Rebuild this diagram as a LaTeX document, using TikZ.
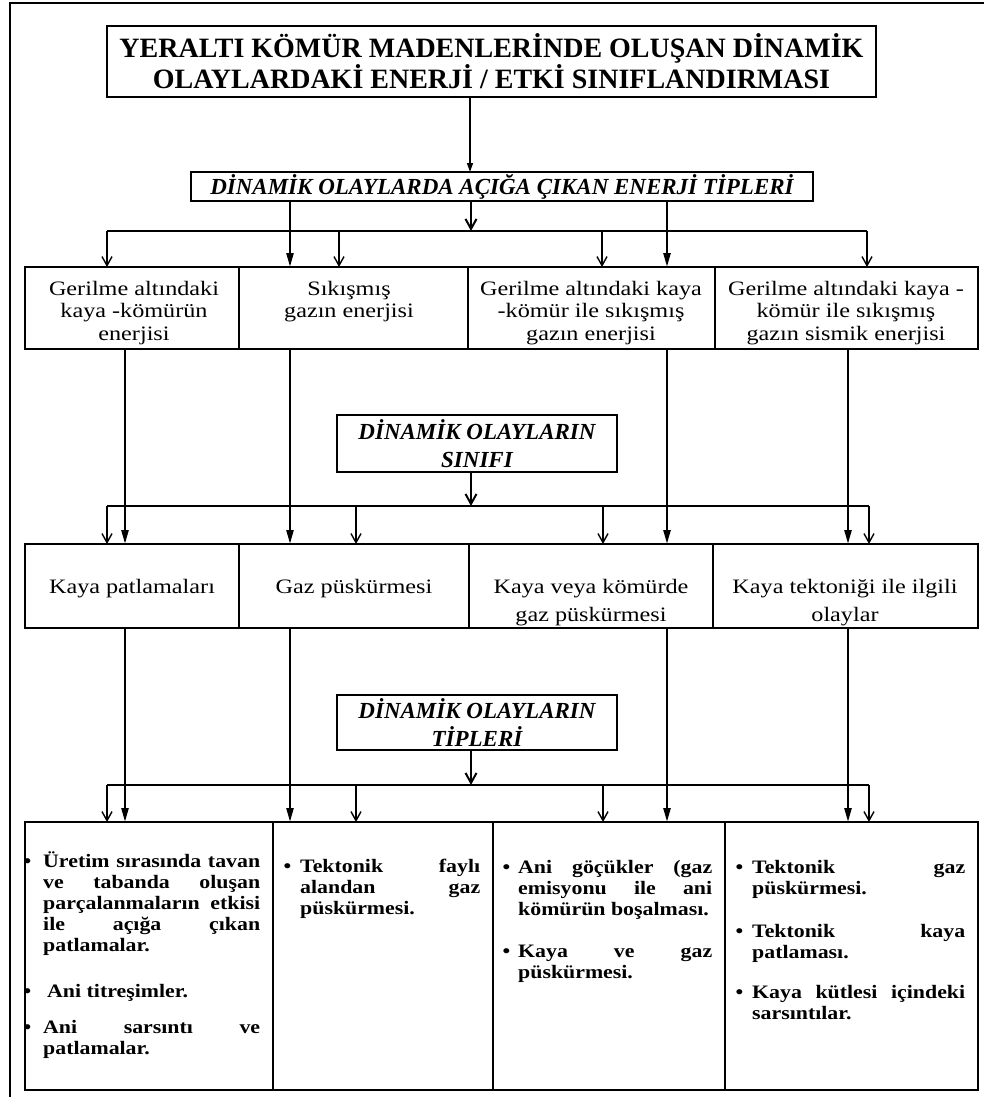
\documentclass[tikz,border=0pt]{standalone}
\usepackage{fontspec}
\setmainfont{Liberation Serif}
\newfontfamily\rowfont{Liberation Serif}[FakeStretch=1.15]
\newfontfamily\widefont{Liberation Serif}[FakeStretch=1.18]
\usetikzlibrary{arrows.meta}
\newcommand{\jl}[1]{\makebox[\linewidth][s]{#1}}
\newcommand{\bul}[1]{\leavevmode\llap{\textbullet\kern#1pt}}
\newcommand{\rtx}{\rowfont\fontsize{19}{21}\selectfont\bfseries\lineskiplimit=-50pt\relax}
\newcommand{\btx}{\widefont\fontsize{20.5}{22.5}\selectfont\lineskiplimit=-50pt\relax}
\newcommand{\ctx}{\widefont\fontsize{20.5}{28}\selectfont\lineskiplimit=-50pt\relax}
\begin{document}
\begin{tikzpicture}[x=1pt,y=-1pt,
  frame/.style={line width=2pt},
  box/.style={draw, line width=1.8pt, inner sep=0pt, outer sep=0pt, anchor=north west},
  tbox/.style={draw, line width=2.6pt, inner sep=0pt, outer sep=0pt, anchor=north west},
  ttl/.style={font=\fontsize{28}{28}\selectfont\bfseries, align=center},
  sttl/.style={font=\fontsize{23}{28}\selectfont\bfseries\itshape, align=center},
  txt/.style={inner sep=0pt, anchor=base},
  itm/.style={inner sep=0pt, anchor=base west},
  bus/.style={line width=1.6pt},
  thinarr/.style={line width=1.4pt, -{Straight Barb[length=9pt,width=10pt,line width=1.4pt]}},
  thickarr/.style={line width=2.4pt, -{Triangle[length=14pt,width=7pt]}},
  midarr/.style={line width=2.2pt, -{Straight Barb[length=10pt,width=11pt,line width=2pt]}},
  smallarr/.style={line width=1.4pt, -{Triangle[length=9pt,width=6pt]}}
]
\useasboundingbox (0,0) rectangle (984,1097);
\draw[frame] (10,1097) -- (10,3) -- (984,3);

% named x positions
\coordinate (xm) at (471,0);
\coordinate (xtop) at (470,0);
\coordinate (xa) at (107,0);
\coordinate (xb1) at (339,0);
\coordinate (xc1) at (602,0);
\coordinate (xd1) at (867,0);
\coordinate (xb) at (356,0);
\coordinate (xc) at (603,0);
\coordinate (xd) at (869,0);
\coordinate (xk1) at (125,0);
\coordinate (xk2) at (290,0);
\coordinate (xk3) at (667,0);
\coordinate (xk4) at (848,0);
\coordinate (bus1) at (0,231);
\coordinate (bus2) at (0,506);
\coordinate (bus3) at (0,785);

% title and headings
\node[tbox, minimum width=769pt, minimum height=71pt] (title) at (107,26) {};
\node[ttl] (titletxt) at (title.center) {YERALTI KÖMÜR MADENLERİNDE OLUŞAN DİNAMİK\\OLAYLARDAKİ ENERJİ / ETKİ SINIFLANDIRMASI};
\node[box, minimum width=622pt, minimum height=29pt] (sub) at (191,172) {};
\node[sttl] (subtxt) at (sub.center) {DİNAMİK OLAYLARDA AÇIĞA ÇIKAN ENERJİ TİPLERİ};
\node[box, minimum width=280pt, minimum height=57pt] (cls) at (337,415) {};
\node[sttl] (clstxt) at (cls.center) {DİNAMİK OLAYLARIN\\SINIFI};
\node[box, minimum width=280pt, minimum height=55pt] (typ) at (337,695) {};
\node[sttl] (typtxt) at (typ.center) {DİNAMİK OLAYLARIN\\TİPLERİ};

% row 1
\node[box, minimum width=214pt, minimum height=82pt] (r1a) at (25,267) {};
\node[box, minimum width=229pt, minimum height=82pt] (r1b) at (239,267) {};
\node[box, minimum width=247pt, minimum height=82pt] (r1c) at (468,267) {};
\node[box, minimum width=263pt, minimum height=82pt] (r1d) at (715,267) {};
\node[txt] (t1a) at (134,295) {\parbox[t]{210pt}{\centering\btx Gerilme altındaki\\kaya -kömürün\\enerjisi}};
\node[txt] (t1b) at (349,295) {\parbox[t]{225pt}{\centering\btx Sıkışmış\\gazın enerjisi}};
\node[txt] (t1c) at (591,295) {\parbox[t]{245pt}{\centering\btx Gerilme altındaki kaya\\-kömür ile sıkışmış\\gazın enerjisi}};
\node[txt] (t1d) at (846,295) {\parbox[t]{260pt}{\centering\btx Gerilme altındaki kaya -\\kömür ile sıkışmış\\gazın sismik enerjisi}};

% row 2
\node[box, minimum width=214pt, minimum height=84pt] (r2a) at (25,544) {};
\node[box, minimum width=230pt, minimum height=84pt] (r2b) at (239,544) {};
\node[box, minimum width=244pt, minimum height=84pt] (r2c) at (469,544) {};
\node[box, minimum width=265pt, minimum height=84pt] (r2d) at (713,544) {};
\node[txt] (t2a) at (132,593) {\parbox[t]{210pt}{\centering\ctx Kaya patlamaları}};
\node[txt] (t2b) at (354,593) {\parbox[t]{225pt}{\centering\ctx Gaz püskürmesi}};
\node[txt] (t2c) at (591,593) {\parbox[t]{240pt}{\centering\ctx Kaya veya kömürde\\gaz püskürmesi}};
\node[txt] (t2d) at (845,593) {\parbox[t]{260pt}{\centering\ctx Kaya tektoniği ile ilgili\\olaylar}};

% row 3
\node[box, minimum width=248pt, minimum height=268pt] (r3a) at (25,822) {};
\node[box, minimum width=220pt, minimum height=268pt] (r3b) at (273,822) {};
\node[box, minimum width=232pt, minimum height=268pt] (r3c) at (493,822) {};
\node[box, minimum width=253pt, minimum height=268pt] (r3d) at (725,822) {};

\node[itm] (i1) at (43,867) {\parbox[t]{217pt}{\rtx\bul{12}\jl{Üretim sırasında tavan}\par\jl{ve tabanda oluşan}\par\jl{parçalanmaların etkisi}\par\jl{ile açığa çıkan}\par patlamalar.}};
\node[itm] (i2) at (47,997) {\parbox[t]{213pt}{\rtx\bul{16}Ani titreşimler.}};
\node[itm] (i3) at (43,1033) {\parbox[t]{217pt}{\rtx\bul{12}\jl{Ani sarsıntı ve}\par patlamalar.}};
\node[itm] (i4) at (300,872) {\parbox[t]{180pt}{\rtx\bul{9}\jl{Tektonik faylı}\par\jl{alandan gaz}\par püskürmesi.}};
\node[itm] (i5) at (518,873) {\parbox[t]{194pt}{\rtx\bul{8}\jl{Ani göçükler (gaz}\par\jl{emisyonu ile ani}\par kömürün boşalması.}};
\node[itm] (i6) at (518,957) {\parbox[t]{194pt}{\rtx\bul{8}\jl{Kaya ve gaz}\par püskürmesi.}};
\node[itm] (i7) at (752,873) {\parbox[t]{213pt}{\rtx\bul{9}\jl{Tektonik gaz}\par püskürmesi.}};
\node[itm] (i8) at (752,937) {\parbox[t]{213pt}{\rtx\bul{9}\jl{Tektonik kaya}\par patlaması.}};
\node[itm] (i9) at (752,998) {\parbox[t]{213pt}{\rtx\bul{9}\jl{Kaya kütlesi içindeki}\par sarsıntılar.}};

% connectors: title -> subtitle
\draw[smallarr] (title.south -| xtop) -- (sub.north -| xtop);
\draw[midarr] (sub.south -| xm) -- (bus1 -| xm);
\draw[bus] (bus1 -| xa) -- (bus1 -| xd1);
\draw[thinarr] (bus1 -| xa) -- (r1a.north -| xa);
\draw[thinarr] (bus1 -| xb1) -- (r1b.north -| xb1);
\draw[thinarr] (bus1 -| xc1) -- (r1c.north -| xc1);
\draw[thinarr] (bus1 -| xd1) -- (r1d.north -| xd1);
\draw[thickarr] (sub.south -| xk2) -- (r1b.north -| xk2);
\draw[thickarr] (sub.south -| xk3) -- (r1c.north -| xk3);

% row1 -> row2
\draw[midarr] (cls.south -| xm) -- (bus2 -| xm);
\draw[bus] (bus2 -| xa) -- (bus2 -| xd);
\draw[thinarr] (bus2 -| xa) -- (r2a.north -| xa);
\draw[thinarr] (bus2 -| xb) -- (r2b.north -| xb);
\draw[thinarr] (bus2 -| xc) -- (r2c.north -| xc);
\draw[thinarr] (bus2 -| xd) -- (r2d.north -| xd);
\draw[thickarr] (r1a.south -| xk1) -- (r2a.north -| xk1);
\draw[thickarr] (r1b.south -| xk2) -- (r2b.north -| xk2);
\draw[thickarr] (r1c.south -| xk3) -- (r2c.north -| xk3);
\draw[thickarr] (r1d.south -| xk4) -- (r2d.north -| xk4);

% row2 -> row3
\draw[midarr] (typ.south -| xm) -- (bus3 -| xm);
\draw[bus] (bus3 -| xa) -- (bus3 -| xd);
\draw[thinarr] (bus3 -| xa) -- (r3a.north -| xa);
\draw[thinarr] (bus3 -| xb) -- (r3b.north -| xb);
\draw[thinarr] (bus3 -| xc) -- (r3c.north -| xc);
\draw[thinarr] (bus3 -| xd) -- (r3d.north -| xd);
\draw[thickarr] (r2a.south -| xk1) -- (r3a.north -| xk1);
\draw[thickarr] (r2b.south -| xk2) -- (r3b.north -| xk2);
\draw[thickarr] (r2c.south -| xk3) -- (r3c.north -| xk3);
\draw[thickarr] (r2d.south -| xk4) -- (r3d.north -| xk4);
\end{tikzpicture}
\end{document}
